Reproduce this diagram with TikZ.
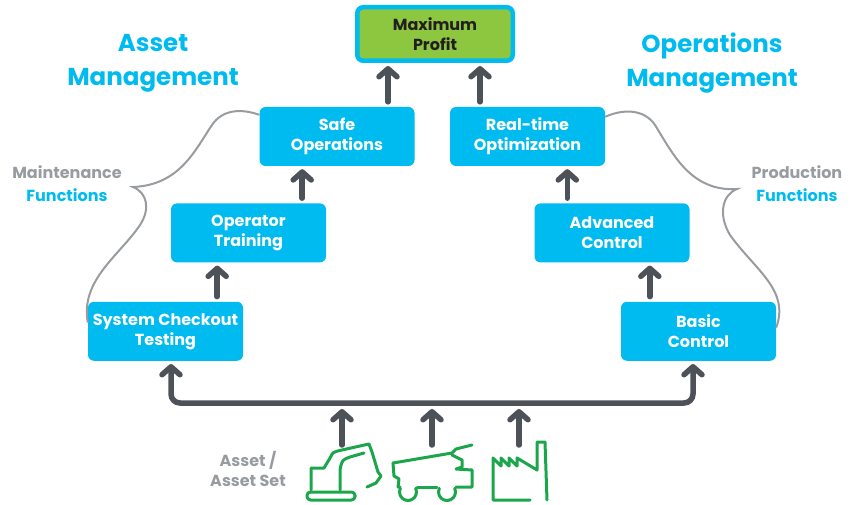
\documentclass[tikz,border=0pt]{standalone}
\usepackage{fontspec}
\setmainfont{Poppins}
\usetikzlibrary{positioning, arrows.meta}

\definecolor{boxcyan}{RGB}{0,187,240}
\definecolor{arrowgray}{RGB}{77,81,88}
\definecolor{bracegray}{RGB}{152,156,160}
\definecolor{profitgreen}{RGB}{141,198,63}
\definecolor{icongreen}{RGB}{28,166,75}
\definecolor{darktext}{RGB}{35,31,32}

\begin{document}
\begin{tikzpicture}[x=1pt,y=-1pt,
 box/.style={rectangle, rounded corners=6pt, fill=boxcyan, text=white,
   minimum width=155pt, minimum height=59pt, inner sep=0pt, align=center,
   font=\fontsize{16}{20}\selectfont\bfseries},
 profit/.style={box, fill=profitgreen, draw=boxcyan, line width=4.5pt,
   text=darktext, minimum width=155.5pt, minimum height=53.5pt},
 arr/.style={draw=arrowgray, line width=5.5pt, line cap=round,
   -{Straight Barb[length=8pt,width=18pt,round]}},
 brace/.style={draw=bracegray, line width=2pt},
 icon/.style={draw=icongreen, line width=3pt, line cap=round, line join=round},
 title/.style={text=boxcyan, align=center, inner sep=0pt,
   font=\fontsize{24.5}{34}\selectfont\bfseries},
 side/.style={align=center, inner sep=0pt,
   font=\fontsize{16}{23}\selectfont\bfseries}]
  \useasboundingbox (0,0) rectangle (855,505);

  % boxes
  \node[profit] (maxp) at (435,34) {Maximum\\Profit};
  \node[box] (safe) at (337,136.5) {Safe\\Operations};
  \node[box] (train) [below=37pt of safe, xshift=-88.5pt] {Operator\\Training};
  \node[box] (sys) [below=39pt of train, xshift=-83pt] {System Checkout\\Testing};
  \node[box] (real) at (527.5,136.5) {Real-time\\Optimization};
  \node[box] (adv) [below=37pt of real, xshift=84.5pt] {Advanced\\Control};
  \node[box] (basic) [below=39pt of adv, xshift=86.5pt] {Basic\\Control};

  % labels
  \node[title] (assetm) at (153,63) {Asset\\Management};
  \node[title] (opsm) at (712,63) {Operations\\Management};
  \node[side] (maint) at (67,184) {\textcolor{bracegray}{Maintenance}\\\textcolor{boxcyan}{Functions}};
  \node[side] (prod) at (797,184) {\textcolor{bracegray}{Production}\\\textcolor{boxcyan}{Functions}};
  \node[side, text=bracegray, font=\fontsize{16}{20}\selectfont\bfseries] (asset) at (248,469) {Asset /\\Asset Set};

  % arrows between the boxes
  \draw[arr, shorten <=5pt, shorten >=3pt] ([xshift=-47pt]maxp.south |- safe.north) -- ([xshift=-47pt]maxp.south);
  \draw[arr, shorten <=5pt, shorten >=3pt] ([xshift=45pt]maxp.south |- real.north) -- ([xshift=45pt]maxp.south);
  \draw[arr, shorten <=5pt, shorten >=3pt] ([xshift=-24pt]train.north east) -- ([xshift=-24pt]train.north east |- safe.south);
  \draw[arr, shorten <=5pt, shorten >=3pt] ([xshift=-26pt]sys.north east) -- ([xshift=-26pt]sys.north east |- train.south);
  \draw[arr, shorten <=5pt, shorten >=3pt] ([xshift=33pt]adv.north west) -- ([xshift=33pt]adv.north west |- real.south);
  \draw[arr, shorten <=5pt, shorten >=3pt] ([xshift=29pt]basic.north west) -- ([xshift=29pt]basic.north west |- adv.south);

  % bus from the assets
  \coordinate (busL) at (171,403);
  \coordinate (busR) at (693,403);
  \draw[arr, {Straight Barb[length=8pt,width=18pt,round]}-{Straight Barb[length=8pt,width=18pt,round]}, rounded corners=9pt, shorten <=3pt, shorten >=3pt]
    (sys.south -| busL) -- (busL) -- (busR) -- (basic.south -| busR);
  \coordinate (exc) at (342,445);
  \coordinate (truck) at (432,445);
  \coordinate (fact) at (519,445);
  \foreach \c in {exc, truck, fact} {
   \draw[arr, shorten >=6pt] (\c) -- (\c |- busL);}

  % braces
  \coordinate (ltip) at (133,187);
  \coordinate (rtip) at (737,189);
  \draw[brace] ([yshift=-8pt]safe.north west) .. controls (240,108) and (222,110) .. (212,125)
    .. controls (195,150) and (180,185) .. (ltip)
    .. controls (148,193) and (150,210) .. (140,225)
    .. controls (120,255) and (80,280) .. ([yshift=-21pt]sys.north west);
  \draw[brace] ([yshift=-10pt]real.north east) .. controls (625,108) and (645,110) .. (655,125)
    .. controls (672,152) and (690,192) .. (rtip)
    .. controls (722,195) and (718,215) .. (730,235)
    .. controls (755,270) and (790,290) .. ([yshift=-26pt]basic.north east);

  % excavator
  \draw[icon, rounded corners=3.5pt] (307,492) rectangle (355,500);
  \draw[icon] (311,490) -- (311,468) -- (324,468) -- (330,458) .. controls (333,452) .. (342,450)
    -- (369,444) -- (372,452) -- (378,472) -- (381,476) -- (376,483) -- (367,487);
  \draw[icon] (340,490) -- (340,470) .. controls (342,460) .. (350,457) -- (364,453);
  % truck
  \draw[icon] (393,463) -- (452,453) -- (456,449) -- (472,445);
  \draw[icon] (452,455) -- (462,460) -- (462,467) -- (456,469) -- (472,470) -- (472,487) -- (456,487);
  \draw[icon] (393,463) -- (394,476) -- (399,479) -- (398,487) -- (400,487);
  \draw[icon] (417,487) -- (437,487);
  \draw[icon] ([shift={(-25:8.5)}]408,492) arc[start angle=-25, end angle=205, radius=8.5];
  \draw[icon] ([shift={(-25:8.5)}]447,492) arc[start angle=-25, end angle=205, radius=8.5];
  % factory
  \draw[icon] (530,500) -- (493,500) -- (493,458) -- (501,466) -- (501,458) -- (509,466)
    -- (509,458) -- (517,466) -- (517,458) -- (537,470) -- (537,442) -- (545,442) -- (547,500);
\end{tikzpicture}
\end{document}
